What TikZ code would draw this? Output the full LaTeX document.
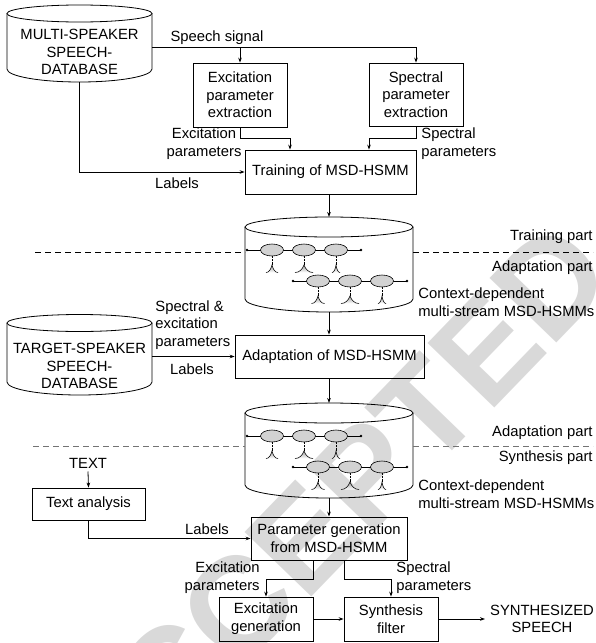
\documentclass[tikz,border=0pt]{standalone}
\usepackage{fontspec}
\setmainfont{Liberation Sans}
\usetikzlibrary{arrows.meta}
\newcommand\gaussfig[3]{% x, apex y, half width
  \shade[top color=gray!75, bottom color=white]
    (#1,#2) .. controls ({#1-0.2*#3},{#2+4.5}) and ({#1-0.5*#3},{#2+7.5}) .. ({#1-#3},{#2+7.5})
    -- ({#1+#3},{#2+7.5}) .. controls ({#1+0.5*#3},{#2+7.5}) and ({#1+0.2*#3},{#2+4.5}) .. (#1,#2) -- cycle;
  \draw[line width=0.55pt]
    ({#1-#3},{#2+7.5}) .. controls ({#1-0.5*#3},{#2+7.5}) and ({#1-0.2*#3},{#2+4.5}) .. (#1,#2)
    .. controls ({#1+0.2*#3},{#2+4.5}) and ({#1+0.5*#3},{#2+7.5}) .. ({#1+#3},{#2+7.5});
  \draw[line width=0.4pt, densely dotted] (#1,{#2-9}) -- (#1,#2);
}
\newcommand\hmmrow[5]{% first centre x, y, widths
  \draw[line width=0.6pt] ({#1-25},#2) -- ({#1+89},#2);
  \fill ({#1-25},#2) circle (1.4);
  \fill ({#1+89},#2) circle (1.4);
  \gaussfig{#1}{#2+15}{#3}
  \gaussfig{#1+32}{#2+15}{#4}
  \gaussfig{#1+64}{#2+15}{#5}
  \foreach \k in {0,32,64}{\draw[line width=0.6pt, fill=gray!35] ({#1+\k},#2) ellipse [x radius=11.5, y radius=6];}
}
\newcommand\modelcyl[1]{%
  \draw (329,#1) ellipse [x radius=84, y radius=10];
  \draw (245,#1) -- (245,{#1+72}) arc [start angle=180, end angle=0, x radius=84, y radius=13] -- (413,#1);
  \hmmrow{272}{#1+23}{6}{9}{4}
  \hmmrow{318}{#1+54}{6.5}{9}{4}
}
\begin{document}
\begin{tikzpicture}[x=1pt, y=-1pt, line width=0.8pt,
  >={Stealth[length=5pt,width=3.6pt]},
  txt/.style={inner sep=0pt, align=center, font=\fontsize{14.8}{17.7}\selectfont},
  box/.style={txt, draw, line width=0.8pt},
  sep/.style={dash pattern=on 6pt off 4pt, line width=0.8pt}]
\useasboundingbox (0,0) rectangle (595,643);
% watermark
\node[rotate=46, text=black!15, inner sep=0pt, font=\fontsize{135}{135}\bfseries\selectfont] (wm) at (327,514) {ACCEPTED};

% databases
\draw (79.5,13.5) ellipse [x radius=72.5, y radius=8.5];
\draw (7,13.5) -- (7,69) arc [start angle=180, end angle=0, x radius=72.5, y radius=13] -- (152,13.5);
\node[txt] (msdb) at (79.5,52) {MULTI-SPEAKER\\SPEECH-\\DATABASE};
\coordinate (msR) at (152,47);
\coordinate (msB) at (79,82);

\draw (79.5,323) ellipse [x radius=72.5, y radius=8.5];
\draw (7,323) -- (7,382) arc [start angle=180, end angle=0, x radius=72.5, y radius=13] -- (152,323);
\node[txt] (tsdb) at (79.5,366) {TARGET-SPEAKER\\SPEECH-\\DATABASE};
\coordinate (tsR) at (152,356.5);

% model databases
\modelcyl{227}
\modelcyl{413}
\coordinate (c1top) at (329,217);
\coordinate (c1bot) at (329,312);
\coordinate (c2top) at (329,403);
\coordinate (c2bot) at (329,498);

% separators
\draw[sep] (35,252) -- (245,252);
\draw[sep] (413,252) -- (593,252);
\draw[sep, black!55] (33,446) -- (245,446);
\draw[sep, black!55] (413,446) -- (593,446);

% boxes
\node[box, minimum width=94, minimum height=64] (exbox) at (240,95) {Excitation\\parameter\\extraction};
\node[box, minimum width=94, minimum height=63] (spbox) at (416,94.5) {Spectral\\parameter\\extraction};
\node[box, minimum width=171, minimum height=44] (train) at (330.5,172) {Training of MSD-HSMM};
\node[box, minimum width=189, minimum height=43] (adapt) at (329.5,356.5) {Adaptation of MSD-HSMM};
\node[box, minimum width=113, minimum height=32] (textan) at (88.5,504) {Text analysis};
\node[box, minimum width=156, minimum height=43] (pgen) at (329,538.5) {Parameter generation\\from MSD-HSMM};
\node[box, minimum width=94, minimum height=44] (exgen) at (266,619) {Excitation\\generation};
\node[box, minimum width=94, minimum height=44] (synth) at (391,619) {Synthesis\\filter};
\node[txt] (textin) at (88,463) {TEXT};
\node[txt] (out) at (542,619) {SYNTHESIZED\\SPEECH};
\coordinate (outarr) at (485,619);

% labels
\node[txt] (lsig) at (217,38) {Speech signal};
\node[txt] (lexp1) at (204,144) {Excitation\\parameters};
\node[txt, anchor=west, align=left] (lspp1) at (421,144) {Spectral\\parameters};
\node[txt] (llab1) at (177,183) {Labels};
\node[txt, anchor=east] (ltr1) at (593,237) {Training part};
\node[txt, anchor=east] (lad1) at (593,268) {Adaptation part};
\node[txt, anchor=west, align=left] (lcd1) at (418,302) {Context-dependent\\multi-stream MSD-HSMMs};
\node[txt, anchor=west, align=left] (lspex) at (155,325) {Spectral \&\\excitation\\parameters};
\node[txt] (llab2) at (192,369) {Labels};
\node[txt, anchor=east] (lad2) at (593,433) {Adaptation part};
\node[txt, anchor=east] (lsy2) at (593,458) {Synthesis part};
\node[txt, anchor=west, align=left] (lcd2) at (418,494) {Context-dependent\\multi-stream MSD-HSMMs};
\node[txt] (llab3) at (207,529) {Labels};
\node[txt, anchor=east, align=right] (lexp2) at (260,578) {Excitation\\parameters};
\node[txt, anchor=west, align=left] (lspp2) at (396,578) {Spectral\\parameters};

% connectors
\draw[->] (msR) -- (spbox.north |- msR) -- (spbox.north);
\draw[->] (exbox.north |- msR) -- (exbox.north);
\draw[->] (exbox.south) -- ++(0,11) -| ([xshift=-40.5pt]train.north);
\draw[->] (spbox.south) -- ++(0,11.5) -| ([xshift=38.5pt]train.north);
\draw[->] (msB) |- (train.west);
\draw[->] (train.south -| c1top) -- (c1top);
\draw[->] (c1bot) -- (adapt.north -| c1bot);
\draw[->] (tsR) -- (adapt.west);
\draw[->] (adapt.south -| c2top) -- (c2top);
\draw[->] (c2bot) -- (pgen.north);
\draw[->] (textin.south) ++(0,3) -- (textan.north);
\draw[->] (textan.south) |- (pgen.west);
\draw[->] ([xshift=-16pt]pgen.south) -- ++(0,19) -| (exgen.north);
\draw[->] ([xshift=15pt]pgen.south) -- ++(0,19) -| (synth.north);
\draw[->] (exgen.east) -- (synth.west);
\draw[->] (synth.east) -- (outarr);
\end{tikzpicture}
\end{document}
